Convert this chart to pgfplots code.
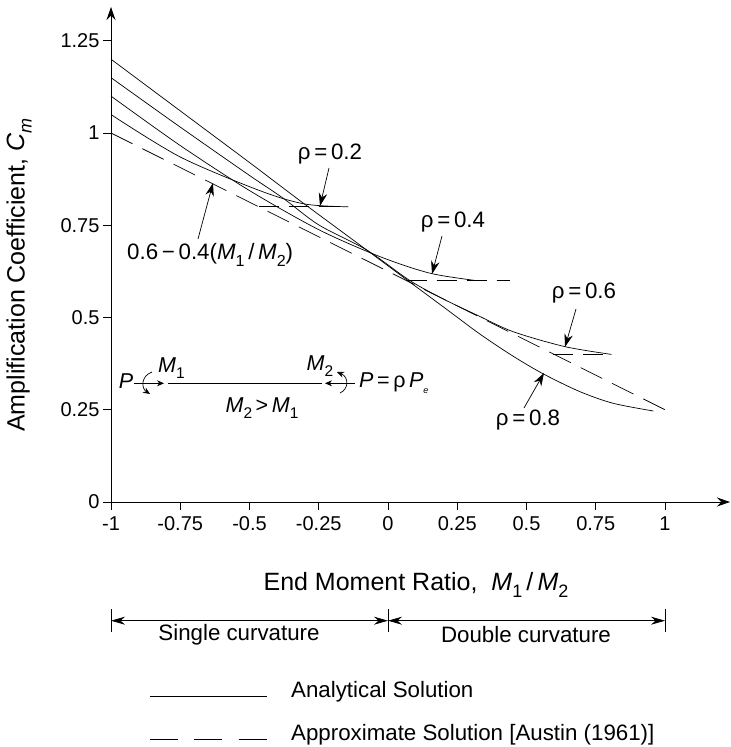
\documentclass[border=0pt]{standalone}
\usepackage{pgfplots}
\pgfplotsset{compat=1.18}
\usetikzlibrary{arrows.meta}
\usepackage{fontspec}
\setmainfont{Liberation Sans}
\newcommand{\sub}[1]{\raisebox{-0.28em}{\fontsize{0.72em}{1em}\selectfont #1}}
\newcommand{\Mo}{\textit{M}\sub{1}}
\newcommand{\Mt}{\textit{M}\sub{2}}
\tikzset{ann/.style={line width=0.7pt,-{Stealth[length=13pt,width=8.5pt]}},
 small/.style={-{Stealth[length=7pt,width=6pt]},line width=0.7pt}}
\begin{document}
\begin{tikzpicture}[x=1pt,y=1pt]
\begin{axis}[
 at={(0,0)},anchor=south west,
 scale only axis,width=619pt,height=495pt,
 xmin=-1,xmax=1.2347,ymin=0,ymax=1.3415,
 axis lines=left,clip=false,
 axis line style={line width=0.8pt,-{Stealth[length=13pt,width=9pt]}},
 tick align=outside,major tick length=8pt,
 tick style={line width=0.8pt,black},
 xtick={-1,-0.75,-0.5,-0.25,0,0.25,0.5,0.75,1},
 xticklabels={-1,-0.75,-0.5,-0.25,0,0.25,0.5,0.75,1},
 ytick={0,0.25,0.5,0.75,1,1.25},
 yticklabels={0,0.25,0.5,0.75,1,1.25},
 tick label style={font=\fontsize{20}{23}\selectfont},
 xticklabel style={yshift=-3pt},
]
% rho = 0.8
\addplot[black,line width=0.7pt,smooth] coordinates {(-1,1.2)(-0.75,1.06)(-0.5,0.92)(-0.306,0.81)(-0.077,0.683)(0.104,0.582)(0.212,0.522)(0.332,0.455)(0.452,0.395)(0.561,0.347)(0.693,0.299)(0.813,0.2675)(0.958,0.2466)};
% rho = 0.6
\addplot[black,line width=0.7pt,smooth] coordinates {(-1,1.15)(-0.75,1.016)(-0.5,0.885)(-0.378,0.823)(-0.25,0.751)(-0.077,0.683)(0.079,0.6)(0.2,0.55)(0.32,0.507)(0.452,0.4615)(0.639,0.421)(0.807,0.4)};
% rho = 0.4
\addplot[black,line width=0.7pt,smooth] coordinates {(-1,1.1)(-0.75,0.966)(-0.5,0.844)(-0.25,0.738)(-0.029,0.665)(0.152,0.62)(0.32,0.6)};
% rho = 0.2
\addplot[black,line width=0.7pt,smooth] coordinates {(-1,1.05)(-0.75,0.935)(-0.462,0.8436)(-0.3,0.8075)(-0.143,0.8)};
% Approximate
\addplot[black,line width=0.7pt,dash pattern=on 24pt off 11pt] coordinates {(-1,1)(1,0.25)};
\addplot[black,line width=0.7pt,dash pattern=on 20pt off 10pt] coordinates {(-0.467,0.8)(-0.143,0.8)};
\addplot[black,line width=0.7pt,dash pattern=on 20pt off 10pt] coordinates {(0.067,0.6)(0.44,0.6)};
\addplot[black,line width=0.7pt,dash pattern=on 20pt off 10pt] coordinates {(0.597,0.4)(0.807,0.4)};
\end{axis}
\begin{scope}[x=1pt,y=-1pt,shift={(-111pt,0pt)},yshift=0pt]
\begin{scope}[yshift=502pt]
\path[use as bounding box] (0,0) rectangle (730,747);
\def\tf{\fontsize{22.3}{26}\selectfont}
\def\bf{\fontsize{21.5}{25}\selectfont}
\def\lf{\fontsize{25}{29}\selectfont}
\node[rotate=90,font=\lf] at (19,275) {Amplification Coefficient, \textit{C}\sub{\textit{m}}};
\node[font=\lf] at (416,585) {End Moment Ratio, \ \Mo\,/\,\Mt};
% brackets
\draw[line width=0.8pt] (111,609)--(111,632) (388,609)--(388,632) (665,609)--(665,632);
\draw[line width=0.8pt,{Stealth[length=14pt,width=8pt]}-{Stealth[length=14pt,width=8pt]}] (111,620.7)--(388,620.7);
\draw[line width=0.8pt,{Stealth[length=14pt,width=8pt]}-{Stealth[length=14pt,width=8pt]}] (388,620.7)--(665,620.7);
\node[font=\tf] at (239,635) {Single curvature};
\node[font=\tf] at (526,635) {Double curvature};
% legend
\draw[line width=0.7pt] (150,696)--(266.5,696);
\draw[line width=0.7pt] (150,739)--(178,739) (194,739)--(222,739) (238.5,739)--(266.5,739);
\node[font=\tf,anchor=west,inner sep=0] at (291,692) {Analytical Solution};
\node[font=\tf,anchor=west,inner sep=0] at (291,734.5) {Approximate Solution [Austin (1961)]};
% rho labels
\node[font=\tf] at (330,154) {ρ\,=\,0.2};
\draw[ann] (329,168)--(320,206);
\node[font=\tf] at (453,222) {ρ\,=\,0.4};
\draw[ann] (442,236)--(432,274);
\node[font=\tf] at (584,293) {ρ\,=\,0.6};
\draw[ann] (576,309)--(565,347);
\node[font=\tf] at (528,420) {ρ\,=\,0.8};
\draw[ann] (524,408)--(544,373);
\node[font=\tf,anchor=west,inner sep=0] at (127,255) {0.6\,−\,0.4(\Mo\,/\,\Mt)};
\draw[ann] (198,239)--(213,183);
% beam diagram
\draw[line width=0.7pt] (168,383.3)--(322,383.3);
\draw[small] (134,383.3)--(164,383.3);
\draw[small] (355,383.3)--(325,383.3);
\draw[small] (152,372) .. controls (141,376) and (141,388) .. (150,394);
\draw[small] (340,393) .. controls (349,389) and (349,377) .. (337,372);
\node[font=\bf\itshape] at (126,381) {P};
\node[font=\bf,anchor=west,inner sep=0] at (158,368.5) {\Mo};
\node[font=\bf,anchor=west,inner sep=0] at (306.5,366) {\Mt};
\node[font=\bf,anchor=west,inner sep=0] at (359,383) {\textit{P}\,=\,ρ\,\textit{P}\raisebox{-0.25em}{\fontsize{9}{10}\selectfont\textit{e}}};
\node[font=\bf] at (262,408) {\Mt\,>\,\Mo};
\end{scope}
\end{scope}
\end{tikzpicture}
\end{document}
